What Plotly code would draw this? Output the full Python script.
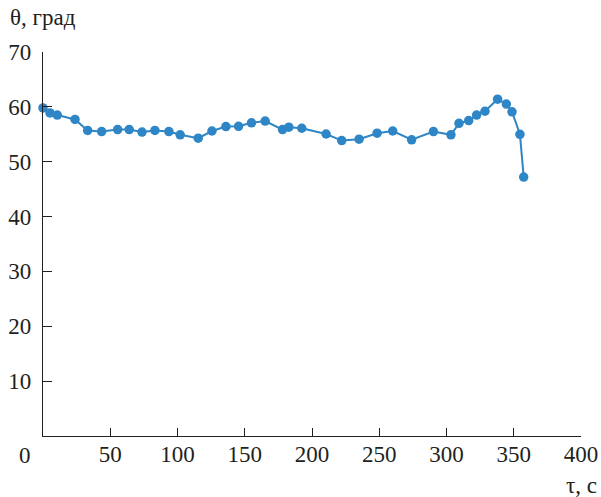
import plotly.graph_objects as go

# Measured contact angle over time
tau_s = [0, 5.2, 10.6, 23.8, 33.2, 43.6, 55.5, 64.1, 73.6, 83.2, 93.6, 102.0,
         115.4, 125.6, 136.0, 145.4, 155.0, 165.2, 178.1, 182.8, 192.4, 210.5,
         222.1, 235.0, 248.4, 260.0, 274.1, 290.3, 303.3, 309.3, 316.5, 322.4,
         328.6, 338.0, 344.5, 348.7, 354.6, 357.4]
theta_deg = [59.8, 58.9, 58.5, 57.7, 55.7, 55.5, 55.85, 55.85, 55.4, 55.7, 55.5,
             54.9, 54.3, 55.6, 56.4, 56.45, 57.1, 57.4, 55.85, 56.3, 56.1, 55.05,
             53.85, 54.1, 55.2, 55.6, 54.0, 55.5, 54.9, 57.0, 57.5, 58.5, 59.2,
             61.4, 60.5, 59.1, 55.0, 47.2]

x_ticks = [50, 100, 150, 200, 250, 300, 350, 400]
y_ticks = [10, 20, 30, 40, 50, 60, 70]

ink = "#231f20"
blue = "#2f86c6"
font_family = "Liberation Serif"
fs = 23

fig = go.Figure()
fig.add_trace(go.Scatter(
    x=tau_s, y=theta_deg, mode="lines+markers",
    line=dict(color=blue, width=2),
    marker=dict(color=blue, size=9.5),
    cliponaxis=False, showlegend=False,
))

axis_common = dict(
    showgrid=False, zeroline=False, showline=True, linecolor=ink, linewidth=1.3,
    ticks="inside", tickcolor=ink, tickwidth=1.3, automargin=False,
    tickfont=dict(family=font_family, size=fs, color=ink),
)

fig.update_xaxes(range=[0, 400], tickmode="array", tickvals=x_ticks,
                 ticktext=[str(v) for v in x_ticks], ticklen=8,
                 ticklabelstandoff=-3, **axis_common)
fig.update_yaxes(range=[0, 70], tickmode="array", tickvals=y_ticks,
                 ticktext=[str(v) for v in y_ticks], ticklen=9,
                 ticklabelstandoff=6, **axis_common)

fig.update_layout(
    width=601, height=497, autosize=False,
    margin=dict(l=43, r=19.5, t=51.7, b=60.5),
    plot_bgcolor="white", paper_bgcolor="white",
    font=dict(family=font_family, size=fs, color=ink),
    annotations=[
        dict(text="θ, град", xref="paper", yref="paper", x=-0.065, y=1.089,
             xanchor="left", yanchor="middle", showarrow=False,
             font=dict(family=font_family, size=fs, color=ink)),
        dict(text="0", xref="paper", yref="paper", x=-0.018, y=-0.05,
             xanchor="right", yanchor="middle", showarrow=False,
             font=dict(family=font_family, size=fs, color=ink)),
        dict(text="τ, с", xref="paper", yref="paper", x=1.034, y=-0.13,
             xanchor="right", yanchor="middle", showarrow=False,
             font=dict(family=font_family, size=fs, color=ink)),
    ],
)

fig.write_html("out.html")
